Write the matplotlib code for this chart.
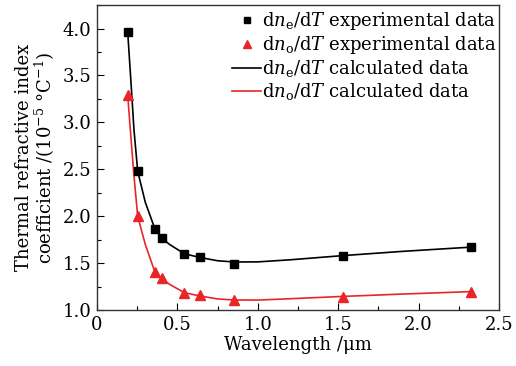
import matplotlib
matplotlib.use("Agg")
import matplotlib.pyplot as plt
from matplotlib.lines import Line2D
from matplotlib.ticker import MultipleLocator

plt.rcParams['font.family'] = ['DejaVu Serif']
plt.rcParams['mathtext.fontset'] = 'dejavuserif'

# experimental data
wl_exp = [0.191, 0.253, 0.361, 0.402, 0.543, 0.640, 0.852, 1.530, 2.325]
ne_exp = [3.96, 2.48, 1.86, 1.77, 1.60, 1.565, 1.495, 1.577, 1.67]
no_exp = [3.29, 2.00, 1.40, 1.34, 1.18, 1.155, 1.105, 1.143, 1.196]

# calculated data
wl_calc = [0.191, 0.21, 0.23, 0.253, 0.30, 0.361, 0.402, 0.45, 0.543, 0.640, 0.75, 0.852, 1.0, 1.2, 1.53, 1.9, 2.325]
ne_calc = [3.96, 3.46, 2.92, 2.48, 2.15, 1.86, 1.77, 1.70, 1.60, 1.56, 1.525, 1.512, 1.513, 1.535, 1.58, 1.625, 1.67]
no_calc = [3.29, 2.86, 2.43, 2.00, 1.70, 1.40, 1.34, 1.275, 1.185, 1.15, 1.118, 1.107, 1.106, 1.12, 1.145, 1.17, 1.196]

xticks = [0, 0.5, 1.0, 1.5, 2.0, 2.5]
xticklabels = ['0', '0.5', '1.0', '1.5', '2.0', '2.5']
yticks = [1.0, 1.5, 2.0, 2.5, 3.0, 3.5, 4.0]

RED = '#e8262a'
fs = 13

fig = plt.figure(figsize=(5.16, 3.66), dpi=100)
ax = fig.add_axes([0.188, 0.153, 0.779, 0.833])

ax.plot(wl_calc, ne_calc, color='black', lw=1.2, zorder=2)
ax.plot(wl_calc, no_calc, color=RED, lw=1.2, zorder=2)
ax.plot(wl_exp, ne_exp, ls='none', marker='s', ms=5.5, color='black', zorder=3)
ax.plot(wl_exp, no_exp, ls='none', marker='^', ms=6.5, color=RED, zorder=3)

ax.set_xlim(0, 2.5)
ax.set_ylim(1.0, 4.25)
ax.set_xticks(xticks)
ax.set_xticklabels(xticklabels)
ax.set_yticks(yticks)
ax.set_yticklabels([f'{v:.1f}' for v in yticks])
ax.xaxis.set_minor_locator(MultipleLocator(0.25))
ax.yaxis.set_minor_locator(MultipleLocator(0.25))
ax.tick_params(which='both', direction='in', labelsize=fs, top=False, right=False)
ax.tick_params(which='major', length=5, width=0.8, pad=4)
ax.tick_params(which='minor', length=3, width=0.8)
for s in ax.spines.values():
    s.set_linewidth(1.0)
    s.set_color('#333333')

ax.set_xlabel('Wavelength /μm', fontsize=fs, labelpad=2)
ax.set_ylabel('Thermal refractive index\ncoefficient /(10$^{-5}$ °C$^{-1}$)', fontsize=fs, labelpad=4, linespacing=1.0)

handles = [
    Line2D([], [], ls='none', marker='s', ms=4.5, color='black'),
    Line2D([], [], ls='none', marker='^', ms=5.5, color=RED),
    Line2D([], [], color='black', lw=1.2),
    Line2D([], [], color=RED, lw=1.2),
]
labels = [
    r'd$n_{\rm e}$/d$T$ experimental data',
    r'd$n_{\rm o}$/d$T$ experimental data',
    r'd$n_{\rm e}$/d$T$ calculated data',
    r'd$n_{\rm o}$/d$T$ calculated data',
]
ax.legend(handles, labels, loc='upper left', bbox_to_anchor=(0.31, 1.02), frameon=False,
          fontsize=fs, handlelength=1.6, handletextpad=0.05, labelspacing=0.12, borderaxespad=0.2)

fig.savefig('out.png', dpi=100)
